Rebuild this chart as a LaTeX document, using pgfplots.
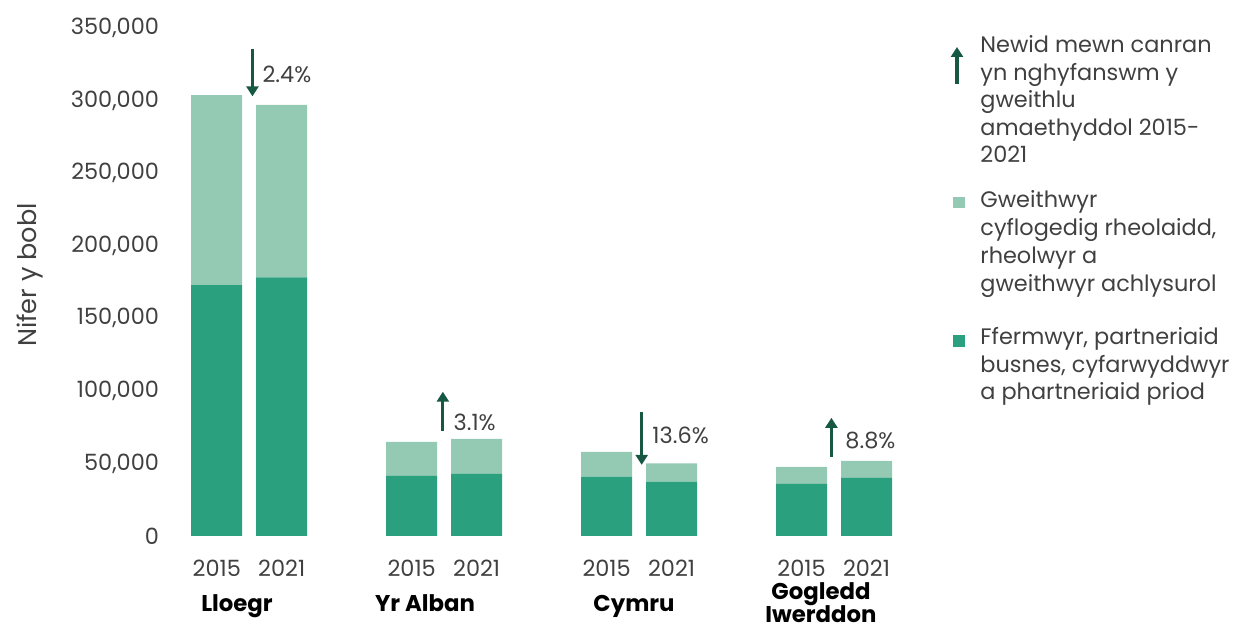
\documentclass[border=0pt]{standalone}
\usepackage{fontspec}
\setmainfont{Poppins}
\usepackage{pgfplots}
\pgfplotsset{compat=1.18}
\usetikzlibrary{arrows.meta}
\definecolor{dark}{RGB}{42,160,126}
\definecolor{light}{RGB}{148,201,180}
\definecolor{arr}{RGB}{22,88,68}
\definecolor{txt}{RGB}{64,64,64}
\newcommand\fs{\fontsize{11.2}{13}\selectfont}
\tikzset{myarr/.style={arr, line width=1.6pt, -{Triangle[length=5pt,width=6pt]}}}
\begin{document}
\begin{tikzpicture}
\useasboundingbox (0,0) rectangle (625pt,315pt);
\begin{axis}[at={(84pt,47pt)}, anchor=south west, scale only axis,
  width=368.75pt, height=254pt,
  xmin=-0.75, xmax=10.6, ymin=0, ymax=350000,
  axis line style={draw=none}, major tick length=0pt,
  xtick={0,1,3,4,6,7,9,10},
  xticklabels={2015,2021,2015,2021,2015,2021,2015,2021},
  xticklabel style={anchor=base, yshift=-20.5pt},
  ytick={0,50000,100000,150000,200000,250000,300000,350000},
  yticklabels={0,{50,000},{100,000},{150,000},{200,000},{250,000},{300,000},{350,000}},
  yticklabel style={xshift=-1pt},
  scaled y ticks=false,
  ticklabel style={font=\fs, text=txt},
  ybar stacked, bar width=0.785,
  clip=false,
]
\addplot[fill=dark, draw=none] coordinates {(0,172900) (1,178200) (3,41400) (4,42800) (6,40900) (7,37500) (9,35900) (10,40000)};
\addplot[fill=light, draw=none] coordinates {(0,130900) (1,118800) (3,23500) (4,24100) (6,17100) (7,12600) (9,11700) (10,11800)};
\draw[myarr] (axis cs:0.55,335300) -- (axis cs:0.55,302900);
\draw[myarr] (axis cs:3.48,72400) -- (axis cs:3.48,99400);
\draw[myarr] (axis cs:6.54,85600) -- (axis cs:6.54,49000);
\draw[myarr] (axis cs:9.46,54500) -- (axis cs:9.46,81400);
\node[anchor=west, inner sep=0, font=\fs, text=txt] at (axis cs:0.70,318300) {2.4\%};
\node[anchor=west, inner sep=0, font=\fs, text=txt] at (axis cs:3.64,78500) {3.1\%};
\node[anchor=west, inner sep=0, font=\fs, text=txt] at (axis cs:6.70,69000) {13.6\%};
\node[anchor=west, inner sep=0, font=\fs, text=txt] at (axis cs:9.67,66100) {8.8\%};
\end{axis}
\begin{scope}[x=0.5pt, y=-0.5pt, shift={(0,315pt)}]
\node[rotate=90, font=\fontsize{12.8}{15}\selectfont, text=txt] at (30,275) {Nifer y bobl};
\foreach \x/\t in {237/Lloegr, 425/Yr Alban, 634/Cymru}
  \node[anchor=base, inner sep=0, font=\fontsize{11.4}{14}\selectfont\bfseries, text=black] at (\x,612) {\t};
\node[anchor=base, inner sep=0, font=\fontsize{11.4}{14}\selectfont\bfseries, text=black] at (821,600) {Gogledd};
\node[anchor=base, inner sep=0, font=\fontsize{11.4}{14}\selectfont\bfseries, text=black] at (821,623) {Iwerddon};
\draw[myarr] (957,84) -- (957,47);
\fill[light] (953,197) rectangle (965,208);
\fill[dark] (953,335) rectangle (965,347);
\foreach \y/\t in {53/Newid mewn canran, 80.5/yn nghyfanswm y, 108/gweithlu, 135.5/amaethyddol 2015-, 163/2021,
  208/Gweithwyr, 236/{cyflogedig rheolaidd,}, 264/rheolwyr a, 292/gweithwyr achlysurol,
  345/{Ffermwyr, partneriaid}, 373/{busnes, cyfarwyddwyr}, 400/a phartneriaid priod}
  \node[anchor=base west, inner sep=0, font=\fs, text=txt] at (980,\y) {\t};
\end{scope}
\end{tikzpicture}
\end{document}
